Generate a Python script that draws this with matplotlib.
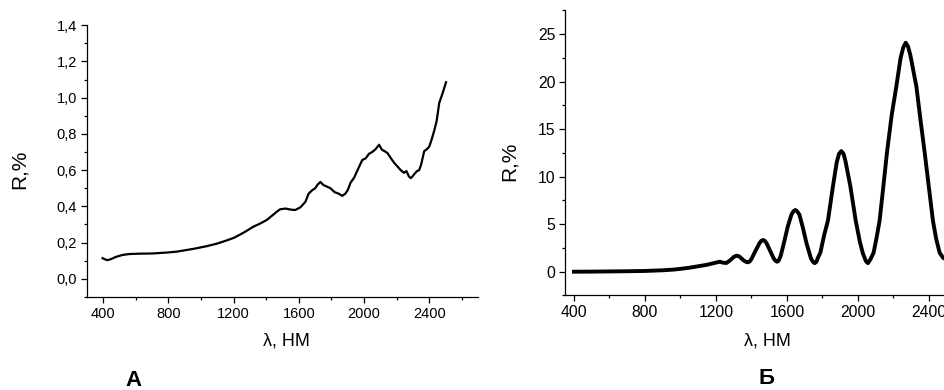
import matplotlib
matplotlib.use('Agg')
import matplotlib.pyplot as plt
from matplotlib.ticker import MultipleLocator, FuncFormatter

plt.rcParams.update({'font.family': 'Liberation Sans', 'font.size': 10})

# panel A: measured spectrum
wl_a = [396, 410, 427, 450, 480, 519, 560, 622, 700, 787, 850, 889, 950, 1033,
        1100, 1157, 1200, 1239, 1280, 1321, 1360, 1403, 1440, 1465, 1485, 1520,
        1550, 1578, 1610, 1640, 1660, 1680, 1700, 1715, 1732, 1750, 1770, 1794,
        1820, 1845, 1866, 1885, 1900, 1917, 1940, 1960, 1989, 2010, 2030, 2050,
        2070, 2092, 2110, 2125, 2143, 2165, 2185, 2205, 2225, 2245, 2260, 2275,
        2287, 2297, 2310, 2325, 2338, 2350, 2369, 2385, 2400, 2415, 2431, 2445,
        2461, 2480, 2503]
r_a = [0.114, 0.108, 0.103, 0.110, 0.122, 0.132, 0.137, 0.139, 0.140, 0.145,
       0.150, 0.156, 0.165, 0.180, 0.195, 0.212, 0.226, 0.244, 0.265, 0.288,
       0.304, 0.325, 0.352, 0.371, 0.384, 0.388, 0.382, 0.380, 0.395, 0.425,
       0.470, 0.488, 0.500, 0.520, 0.535, 0.518, 0.510, 0.500, 0.478, 0.470,
       0.458, 0.470, 0.490, 0.530, 0.560, 0.600, 0.656, 0.665, 0.690, 0.700,
       0.715, 0.740, 0.712, 0.705, 0.695, 0.665, 0.640, 0.620, 0.600, 0.585,
       0.595, 0.565, 0.556, 0.565, 0.580, 0.595, 0.600, 0.630, 0.705, 0.715,
       0.730, 0.770, 0.820, 0.870, 0.970, 1.020, 1.085]

# panel Б: calculated spectrum
wl_b = [400, 500, 600, 700, 800, 900, 958, 1000, 1050, 1108, 1146, 1183, 1205,
        1221, 1240, 1259, 1280, 1300, 1310, 1318, 1326, 1335, 1355, 1368, 1380,
        1390, 1400, 1420, 1445, 1455, 1465, 1475, 1485, 1505, 1525, 1535, 1544,
        1553, 1565, 1585, 1605, 1625, 1636, 1647, 1658, 1670, 1690, 1710, 1735,
        1746, 1756, 1766, 1775, 1788, 1810, 1831, 1859, 1880, 1893, 1906, 1919,
        1930, 1957, 1987, 2010, 2028, 2045, 2056, 2070, 2088, 2105, 2122, 2143,
        2163, 2190, 2216, 2240, 2255, 2269, 2282, 2295, 2329, 2352, 2376, 2400,
        2422, 2440, 2460, 2480, 2500, 2520]
r_b = [0.0, 0.01, 0.03, 0.05, 0.08, 0.15, 0.22, 0.30, 0.42, 0.60, 0.72, 0.88,
       0.98, 1.05, 0.95, 0.92, 1.2, 1.55, 1.65, 1.68, 1.65, 1.55, 1.2, 1.05,
       0.99, 1.08, 1.35, 2.1, 3.0, 3.25, 3.34, 3.25, 3.0, 2.2, 1.4, 1.15, 1.05,
       1.15, 1.7, 3.2, 4.8, 6.0, 6.35, 6.5, 6.35, 6.0, 4.6, 3.0, 1.4, 1.05, 0.9,
       1.05, 1.5, 2.0, 3.9, 5.4, 9.0, 11.5, 12.4, 12.7, 12.4, 11.6, 9.0, 5.4,
       3.2, 1.9, 1.1, 0.9, 1.3, 2.0, 3.6, 5.4, 9.0, 12.5, 16.5, 19.5, 22.5,
       23.6, 24.1, 23.7, 22.8, 19.5, 16.0, 12.5, 8.8, 5.4, 3.5, 2.0, 1.45, 1.3,
       1.5]

comma = FuncFormatter(lambda v, p: f'{v:.1f}'.replace('.', ','))

fig = plt.figure(figsize=(9.45, 3.9), dpi=100)
ax1 = fig.add_axes([0.092, 0.2385, 0.414, 0.697])
ax2 = fig.add_axes([0.598, 0.2424, 0.4414, 0.7308])

ax1.plot(wl_a, r_a, color='black', lw=1.6, solid_joinstyle='round')
ax1.set_xlim(300, 2700)
ax1.set_ylim(-0.1, 1.4)
ax1.xaxis.set_minor_locator(MultipleLocator(200))
ax1.yaxis.set_minor_locator(MultipleLocator(0.1))
ax1.set_yticks([0.0, 0.2, 0.4, 0.6, 0.8, 1.0, 1.2, 1.4])
ax1.set_xticks([400, 800, 1200, 1600, 2000, 2400])
ax1.yaxis.set_major_formatter(comma)

ax2.plot(wl_b, r_b, color='black', lw=2.8, solid_joinstyle='round')
ax2.set_xlim(350, 2700)
ax2.set_ylim(-2.5, 27.5)
ax2.xaxis.set_minor_locator(MultipleLocator(200))
ax2.yaxis.set_minor_locator(MultipleLocator(2.5))
ax2.set_yticks([0, 5, 10, 15, 20, 25])
ax2.set_xticks([400, 800, 1200, 1600, 2000, 2400])

for ax, fs in ((ax1, 10.5), (ax2, 11.3)):
    for s in ('top', 'right'):
        ax.spines[s].set_visible(False)
    ax.spines['left'].set_linewidth(0.9)
    ax.spines['bottom'].set_linewidth(0.9)
    ax.tick_params(which='major', direction='out', length=4, width=0.9, labelsize=fs, pad=3)
    ax.tick_params(which='minor', direction='out', length=2.5, width=0.9)
    ax.set_xlabel('λ, НМ', fontsize=13)
    ax.set_ylabel('R,%', fontsize=15)

ax1.xaxis.set_label_coords(0.511, -0.13)
ax1.yaxis.set_label_coords(-0.15, 0.47)
ax2.xaxis.set_label_coords(0.4845, -0.13)
ax2.yaxis.set_label_coords(-0.11, 0.47)

fig.text(133 / 945, 1 - 381 / 390, 'А', fontsize=16, fontweight='bold', ha='center', va='center')
fig.text(766 / 945, 1 - 379 / 390, 'Б', fontsize=16, fontweight='bold', ha='center', va='center')

fig.savefig('out.png', dpi=100)
